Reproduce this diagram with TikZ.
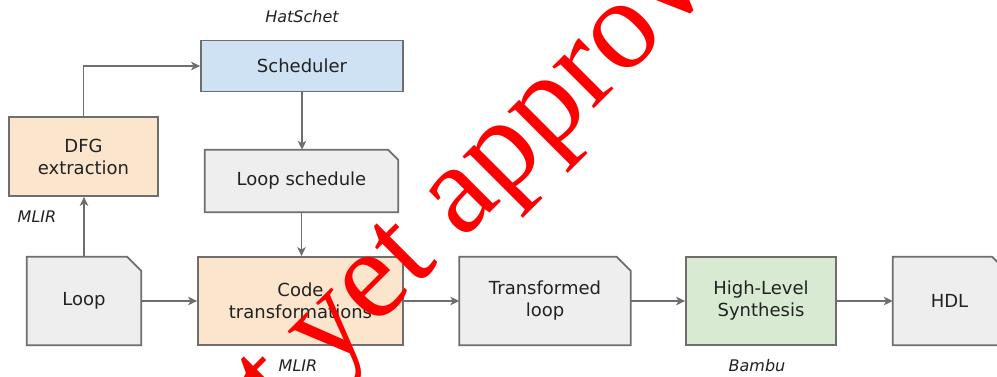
\documentclass[tikz,border=0pt]{standalone}
\usepackage{fontspec}
\setmainfont{DejaVu Sans}
\newfontfamily\wmfont{Liberation Serif}
\usetikzlibrary{arrows.meta,backgrounds}

\definecolor{edgegray}{HTML}{6E6E6E}
\definecolor{textdark}{HTML}{222222}
\definecolor{blueish}{HTML}{CFE2F3}
\definecolor{peach}{HTML}{FCE5CD}
\definecolor{greenish}{HTML}{D9EAD3}
\definecolor{docgray}{HTML}{EEEEEE}

\tikzset{
  boxbase/.style={inner sep=0pt, align=center, text=textdark,
    font=\fontsize{18}{22}\selectfont},
  procbox/.style={boxbase, draw=edgegray, line width=1.8pt, fill=#1},
  docbox/.style={boxbase},
  docoutline/.style={draw=edgegray, line width=1.8pt, fill=docgray},
  tag/.style={text=textdark, font=\fontsize{16}{19}\selectfont\itshape, inner sep=0pt},
  flow/.style={draw=edgegray, line width=1.5pt,
    -{Stealth[length=9pt,width=8.5pt,inset=2.5pt]}},
}

% outline of a document node: rectangle with its top right corner cut off
\newcommand{\docshape}[2]{%
  \begin{scope}[on background layer]
    \path[docoutline] (#1.north west) -- ([xshift=-#2pt]#1.north east)
      -- ([yshift=-#2pt]#1.north east) -- (#1.south east)
      -- (#1.south west) -- cycle;
  \end{scope}}

\begin{document}
\begin{tikzpicture}[x=1pt,y=-1pt]
  \useasboundingbox (0,0) rectangle (997,376);
  \begin{scope}[on background layer]
    \fill[white] (0,0) rectangle (997,376);
  \end{scope}
  \clip (0,0) rectangle (997,376);

  % process boxes
  \node[procbox=blueish, minimum width=202pt, minimum height=51pt] (sched) at (302,66) {Scheduler};
  \node[procbox=peach, minimum width=149pt, minimum height=79pt] (dfg) at (83.5,156.5) {DFG\\extraction};
  \node[procbox=peach, minimum width=205pt, minimum height=88pt] (code) at (300.5,301) {Code\\transformations};
  \node[procbox=greenish, minimum width=150pt, minimum height=88pt] (hls) at (761,301) {High-Level\\Synthesis};

  % documents
  \node[docbox, minimum width=193pt, minimum height=62pt] (lsched) at (301.5,181) {Loop schedule};
  \docshape{lsched}{10}
  \node[docbox, minimum width=114pt, minimum height=88pt] (loop) at (84,301) {Loop};
  \docshape{loop}{14}
  \node[docbox, minimum width=171pt, minimum height=88pt] (tloop) at (545,301) {Transformed\\loop};
  \docshape{tloop}{14}
  \node[docbox, minimum width=113pt, minimum height=88pt] (hdl) at (949.5,301) {HDL};
  \docshape{hdl}{14}

  % tool labels
  \node[tag] (tHat) at (302,17) {HatSchet};
  \node[tag] (tMlirA) at (37,217) {MLIR};
  \node[tag] (tMlirB) at (298,366) {MLIR};
  \node[tag] (tBambu) at (757,366) {Bambu};

  % connectors
  \draw[flow] (loop.north) -- (loop.north |- dfg.south);
  \draw[flow] (dfg.north) |- (sched.west);
  \draw[flow] (sched.south) -- (sched.south |- lsched.north);
  \draw[flow] (lsched.south) -- (lsched.south |- code.north);
  \draw[flow] (loop.east) -- (code.west);
  \draw[flow] (code.east) -- (tloop.west);
  \draw[flow] (tloop.east) -- (hls.west);
  \draw[flow] (hls.east) -- (hdl.west);

  % draft stamp
  \node[text=red, inner sep=0pt, anchor=base west, rotate=45,
        font=\wmfont\fontsize{128}{128}\selectfont] (stamp) at (170.4,532.6) {Not yet approved};
\end{tikzpicture}
\end{document}
